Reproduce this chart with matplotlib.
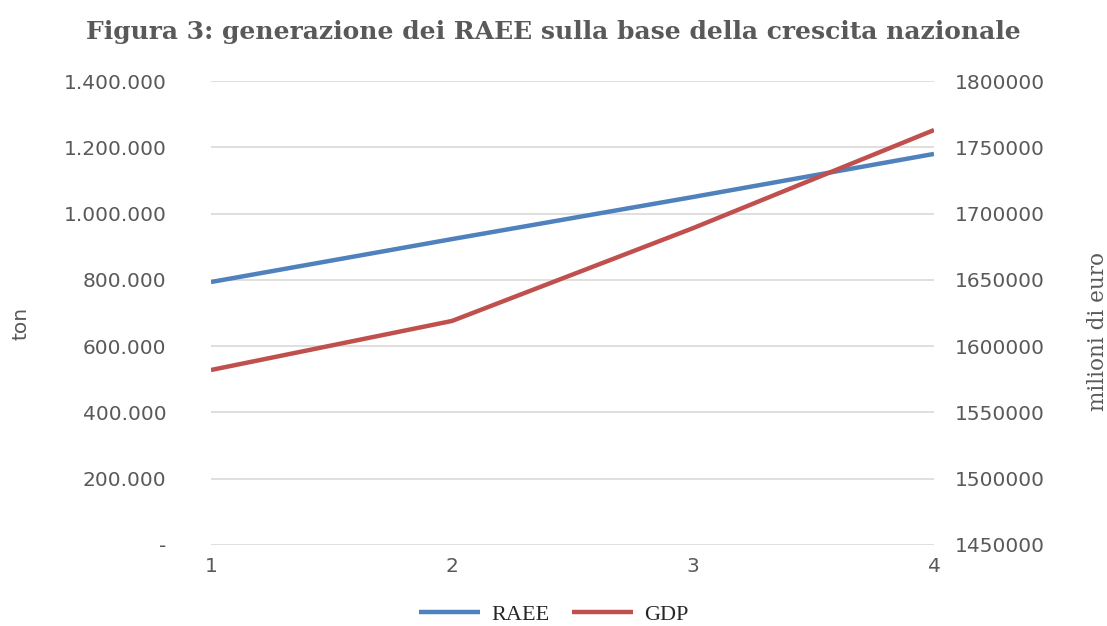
import numpy as np
import matplotlib
matplotlib.use("Agg")
import matplotlib.pyplot as plt
from matplotlib.ticker import FuncFormatter

# dati
anni = [1, 2, 3, 4]
raee = [793500, 923000, 1050000, 1180000]      # ton
gdp = [1582000, 1619000, 1689000, 1763000]     # milioni di euro

left_ticks = [0, 200000, 400000, 600000, 800000, 1000000, 1200000, 1400000]
right_ticks = [1450000, 1500000, 1550000, 1600000, 1650000, 1700000, 1750000, 1800000]

blu = "#4F81BD"
rosso = "#C0504D"
grigio = "#595959"

def fmt_punti(v, pos):
    if v == 0:
        return "-"
    return "{:,.0f}".format(v).replace(",", ".")

fig = plt.figure(figsize=(11.07, 6.26), dpi=100)
ax = fig.add_axes([0.1906, 0.1294, 0.6531, 0.7412])
ax2 = ax.twinx()

l1, = ax.plot(anni, raee, color=blu, lw=3.2, solid_capstyle="butt", label="RAEE")
l2, = ax2.plot(anni, gdp, color=rosso, lw=3.2, solid_capstyle="butt", label="GDP")

ax.set_xlim(1, 4)
ax.set_ylim(0, 1400000)
ax2.set_ylim(1450000, 1800000)
ax.set_xticks(anni)
ax.set_yticks(left_ticks)
ax2.set_yticks(right_ticks)
ax.yaxis.set_major_formatter(FuncFormatter(fmt_punti))
ax2.yaxis.set_major_formatter(FuncFormatter(lambda v, p: "%d" % v))

ax.grid(axis="y", color="#D9D9D9", lw=1.2)
ax.set_axisbelow(True)
for a in (ax, ax2):
    for s in a.spines.values():
        s.set_visible(False)
    a.tick_params(length=0, colors=grigio, labelsize=14.5)
ax.tick_params(axis="y", pad=32)
ax2.tick_params(axis="y", pad=15)
ax.tick_params(axis="x", pad=9)

ax.set_ylabel("ton", color=grigio, fontsize=14.5)
ax.yaxis.set_label_coords(-0.25, 0.478)
ax2.set_ylabel("milioni di euro", color=grigio, fontsize=15.5, family="DejaVu Serif")
ax2.yaxis.set_label_coords(1.211, 0.46)

fig.suptitle("Figura 3: generazione dei RAEE sulla base della crescita nazionale",
             x=0.5, y=0.968, fontsize=18, fontweight="bold", color=grigio, family="DejaVu Serif")

fig.legend(handles=[l1, l2], loc="center", bbox_to_anchor=(0.5, 0.018), ncol=2, frameon=False,
           prop={"family": "Liberation Serif", "size": 16}, handlelength=2.75, columnspacing=1.0,
           handletextpad=0.5, labelcolor="#262626")

fig.savefig("out.png", dpi=100)
